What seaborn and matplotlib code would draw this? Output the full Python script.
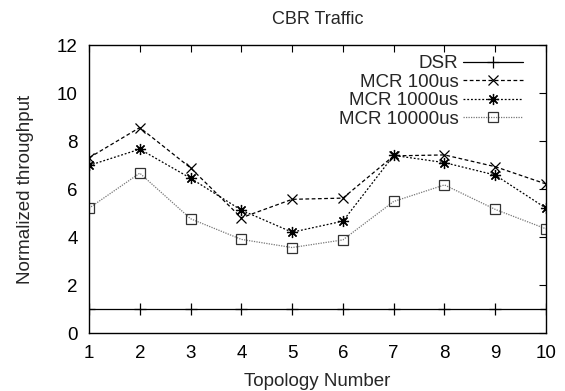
import numpy as np
import pandas as pd
import seaborn as sns
import matplotlib.pyplot as plt

# Values
topology = [1, 2, 3, 4, 5, 6, 7, 8, 9, 10]
dsr = [1.0, 1.0, 1.0, 1.0, 1.0, 1.0, 1.0, 1.0, 1.0, 1.0]
mcr_100 = [7.3, 8.56, 6.88, 4.8, 5.57, 5.62, 7.38, 7.42, 6.93, 6.21]
mcr_1000 = [6.98, 7.66, 6.45, 5.12, 4.2, 4.66, 7.4, 7.1, 6.58, 5.2]
mcr_10000 = [5.2, 6.66, 4.76, 3.9, 3.56, 3.88, 5.48, 6.17, 5.15, 4.34]
labels = ["DSR", "MCR 100us", "MCR 1000us", "MCR 10000us"]

sns.set_style("white")
plt.rcParams['font.family'] = ['Liberation Sans', 'DejaVu Sans']
FS = 13.5

df = pd.DataFrame({
    "topology": topology * 4,
    "value": dsr + mcr_100 + mcr_1000 + mcr_10000,
    "series": [s for s in labels for _ in topology],
})

fig = plt.figure(figsize=(5.65, 3.91), dpi=100)
# axes box: x 89..546 px, y 45..333 px
ax = fig.add_axes([89 / 565, (391 - 333) / 391, 457 / 565, 288 / 391])

styles = {
    "DSR": dict(ls="-", marker="+", color="black", ms=9, mfc="black", mec="black"),
    "MCR 100us": dict(ls=(0, (3, 2)), marker="x", color="black", ms=7, mfc="black", mec="black"),
    "MCR 1000us": dict(ls=(0, (1.5, 1.5)), marker=(8, 2, 0), color="black", ms=8, mfc="black", mec="black"),
    "MCR 10000us": dict(ls=(0, (1, 1)), marker="s", color="#777777", ms=7, mfc="none", mec="#333333"),
}
for name in labels:
    sub = df[df["series"] == name]
    st = styles[name]
    sns.lineplot(data=sub, x="topology", y="value", ax=ax, label=name,
                 color=st["color"], linestyle=st["ls"], marker=st["marker"],
                 markersize=st["ms"], markerfacecolor=st["mfc"],
                 markeredgecolor=st["mec"], markeredgewidth=0.9, linewidth=0.9)

ax.set_xlim(1, 10)
ax.set_ylim(0, 12)
ax.set_xticks(topology)
ax.set_yticks([0, 2, 4, 6, 8, 10, 12])
ax.tick_params(direction="in", length=5, width=0.8, top=True, right=True,
               labelsize=FS, colors="black", pad=8)
ax.tick_params(axis="x", pad=9)
for sp in ax.spines.values():
    sp.set_color("black")
    sp.set_linewidth(1.0)

ax.set_xlabel("Topology Number", fontsize=FS)
ax.set_ylabel("Normalized throughput", fontsize=FS)
ax.xaxis.set_label_coords(0.5, -0.14)
ax.yaxis.set_label_coords(-0.12, 0.5)
ax.set_title("CBR Traffic", fontsize=13, pad=15)

ax.legend(loc="upper right", bbox_to_anchor=(0.95, 0.965), frameon=False,
          markerfirst=False, fontsize=FS, handlelength=3.2,
          labelspacing=0.07, borderaxespad=0, borderpad=0,
          handletextpad=0.25)

fig.savefig("out.png", dpi=100)
